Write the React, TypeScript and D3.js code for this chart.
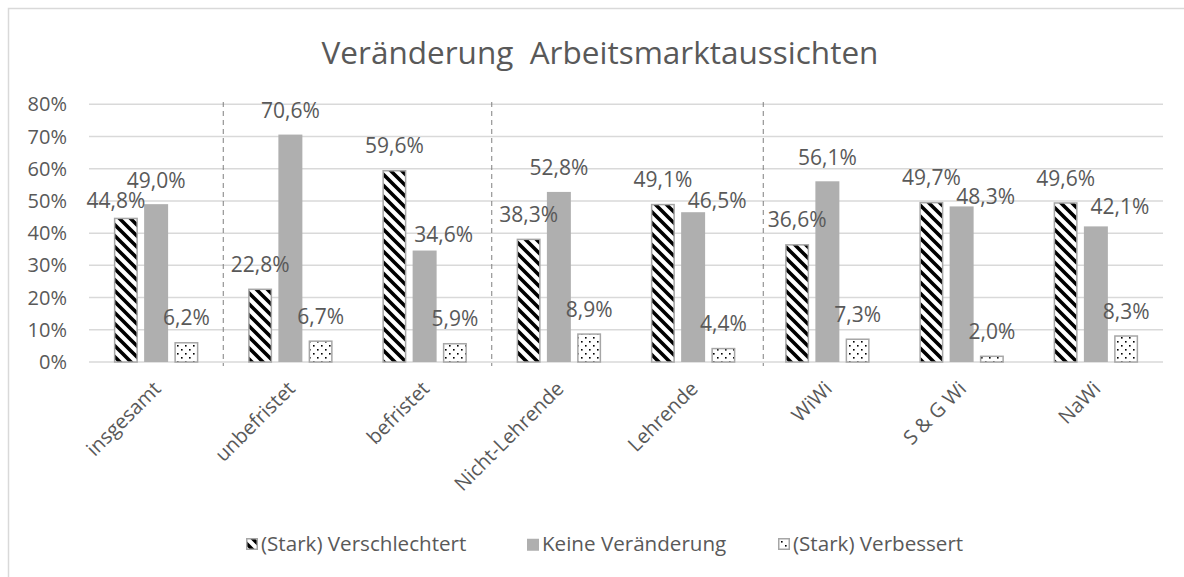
import React from "react";
import * as d3 from "d3";

const categories = ["insgesamt", "unbefristet", "befristet", "Nicht-Lehrende", "Lehrende", "WiWi", "S & G Wi", "NaWi"];
const seriesNames = ["(Stark) Verschlechtert", "Keine Veränderung", "(Stark) Verbessert"];
const verschlechtert = [0.448, 0.228, 0.596, 0.383, 0.491, 0.366, 0.497, 0.496];
const keineVeraenderung = [0.49, 0.706, 0.346, 0.528, 0.465, 0.561, 0.483, 0.421];
const verbessert = [0.062, 0.067, 0.059, 0.089, 0.044, 0.073, 0.02, 0.083];
const yTicks = [0, 0.1, 0.2, 0.3, 0.4, 0.5, 0.6, 0.7, 0.8];
const separatorsAfter = [0, 2, 4];

// manual label nudges [dx, dy] keyed by "categoryIndex-seriesIndex"
const labelNudge: Record<string, [number, number]> = {
  "0-0": [-10, 7],
  "2-1": [19, 8],
  "4-1": [24, 12],
  "6-1": [24, 14],
  "7-1": [24, 4],
};

const W = 1184;
const H = 577;
const TEXT = "#595959";
const FONT = "'Open Sans', sans-serif";

export default function App() {
  const seriesValues = [verschlechtert, keineVeraenderung, verbessert];
  const x0 = d3.scaleBand<string>().domain(categories).range([89, 1163]);
  const x1 = d3
    .scaleBand<number>()
    .domain([0, 1, 2])
    .range([0, x0.bandwidth()])
    .paddingInner(0.207)
    .paddingOuter(0.8226);
  const y = d3.scaleLinear().domain([0, 0.8]).range([362, 104.3]);
  const fmt = (v: number) => (v * 100).toFixed(1).replace(".", ",") + "%";
  const tickFmt = (v: number) => Math.round(v * 100) + "%";

  const fills = ["url(#hatch)", "#afafaf", "url(#dots)"];
  const strokes = ["#a6a6a6", "none", "#a6a6a6"];

  const legendX = [246, 527, 778];

  return (
    <svg
      width={W}
      height={H}
      style={{ position: "fixed", left: 0, top: 0, background: "#fff" }}
      fontFamily={FONT}
    >
      <defs>
        <pattern id="hatch" patternUnits="userSpaceOnUse" width="11" height="11">
          <rect width="11" height="11" fill="#fff" />
          <path d="M-3,-3 L14,14 M-3,8 L3,14 M8,-3 L14,3" stroke="#000" strokeWidth="3.6" />
        </pattern>
        <pattern id="dots" patternUnits="userSpaceOnUse" width="8" height="8">
          <rect width="8" height="8" fill="#fff" />
          <rect x="1" y="1" width="1.6" height="1.6" fill="#000" />
          <rect x="5" y="5" width="1.6" height="1.6" fill="#000" />
        </pattern>
      </defs>
      <rect x={8.5} y={8.5} width={W + 10} height={H + 10} fill="#fff" stroke="#d9d9d9" strokeWidth={1.5} />

      <text x={600} y={64} textAnchor="middle" fontSize={31.5} fill={TEXT} style={{ whiteSpace: "pre" }}>
        {"Veränderung  Arbeitsmarktaussichten"}
      </text>

      {yTicks.map((t) => (
        <g key={t}>
          <line x1={89} x2={1163} y1={y(t)} y2={y(t)} stroke="#d9d9d9" strokeWidth={1.5} />
          <text x={67} y={y(t)} dy="0.35em" textAnchor="end" fontSize={20} fill={TEXT}>
            {tickFmt(t)}
          </text>
        </g>
      ))}

      {separatorsAfter.map((i) => {
        const sx = (x0(categories[i]) as number) + x0.bandwidth() + (i === 4 ? 3 : 0);
        return (
          <line key={i} x1={sx} x2={sx} y1={102} y2={366} stroke="#7f7f7f" strokeWidth={1} strokeDasharray="5,4" />
        );
      })}

      {categories.map((c, ci) => (
        <g key={c}>
          {seriesValues.map((vals, si) => {
            const bx = (x0(c) as number) + (x1(si) as number);
            const bw = x1.bandwidth();
            const top = y(vals[ci]);
            const hasStroke = strokes[si] !== "none";
            return (
              <rect
                key={si}
                x={hasStroke ? bx + 0.75 : bx}
                y={hasStroke ? top + 0.75 : top}
                width={hasStroke ? bw - 1.5 : bw}
                height={hasStroke ? y(0) - top - 0.75 : y(0) - top}
                fill={fills[si]}
                stroke={strokes[si]}
                strokeWidth={1.5}
              />
            );
          })}
        </g>
      ))}

      {categories.map((c, ci) => (
        <g key={c + "-lbl"}>
          {seriesValues.map((vals, si) => {
            const cx = (x0(c) as number) + (x1(si) as number) + x1.bandwidth() / 2;
            const nudge = labelNudge[`${ci}-${si}`] || [0, 0];
            const ly = y(vals[ci]) - 24 + nudge[1];
            return (
              <text
                key={si}
                x={cx + nudge[0]}
                y={ly}
                dy="0.35em"
                textAnchor="middle"
                fontSize={21}
                fill={TEXT}
              >
                {fmt(vals[ci])}
              </text>
            );
          })}
        </g>
      ))}

      {categories.map((c) => {
        const cx = (x0(c) as number) + x0.bandwidth() / 2;
        return (
          <text
            key={c + "-cat"}
            transform={`translate(${cx + 6},390) rotate(-45)`}
            textAnchor="end"
            fontSize={20}
            fill={TEXT}
          >
            {c}
          </text>
        );
      })}

      {seriesNames.map((s, si) => (
        <g key={s}>
          <rect
            x={legendX[si] + (si === 1 ? 0 : 0.75)}
            y={538.75}
            width={si === 1 ? 12 : 10.5}
            height={si === 1 ? 12 : 10.5}
            fill={fills[si]}
            stroke={strokes[si]}
            strokeWidth={1.5}
          />
          <text x={legendX[si] + 15} y={544} dy="0.35em" fontSize={20.6} fill={TEXT}>
            {s}
          </text>
        </g>
      ))}
    </svg>
  );
}
